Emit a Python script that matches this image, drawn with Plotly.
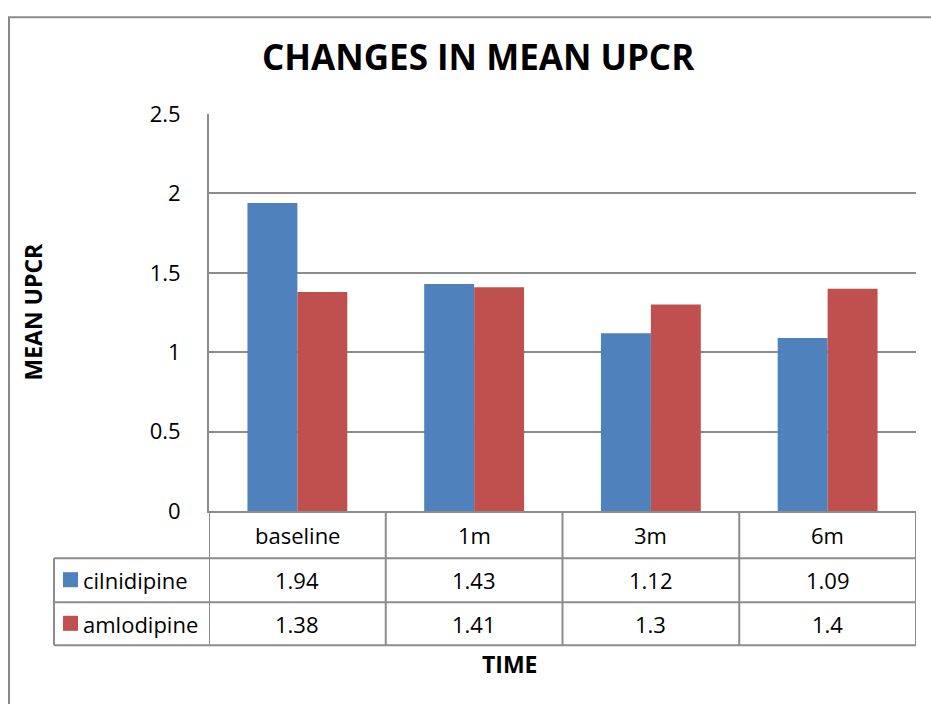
import plotly.graph_objects as go

categories = ["baseline", "1m", "3m", "6m"]
series_names = ["cilnidipine", "amlodipine"]
cilnidipine = [1.94, 1.43, 1.12, 1.09]
amlodipine = [1.38, 1.41, 1.3, 1.4]
y_ticks = [0, 0.5, 1, 1.5, 2, 2.5]
y_tick_labels = ["0", "0.5", "1", "1.5", "2", "2.5"]

W, H = 931, 704
colors = ["#4F81BD", "#C0504D"]
FONT = "'Open Sans', sans-serif"
GRID = "#8c8c8c"

# the page is photographed with a slight vertical offset/squeeze; compensate
VOFF, VSCALE = 17.2, 0.955


def px(x):
    return x / W


def py(y):
    return 1 - ((y - VOFF) / VSCALE) / H


fig = go.Figure()
for name, vals, c in zip(series_names, [cilnidipine, amlodipine], colors):
    fig.add_trace(go.Bar(x=categories, y=vals, name=name, marker=dict(color=c, line=dict(width=0))))

shapes = []
annotations = []

# outer chart border (top + left)
shapes.append(dict(type="line", xref="paper", yref="paper", x0=px(8), x1=px(W + 5), y0=py(18.5), y1=py(18.5),
                   line=dict(color="#8a8a8a", width=2)))
shapes.append(dict(type="line", xref="paper", yref="paper", x0=px(9), x1=px(9), y0=py(18.5), y1=py(H + 30),
                   line=dict(color="#8a8a8a", width=2)))

row_lines = [558, 602, 645]
table_left = 54
for ry in row_lines:
    shapes.append(dict(type="line", xref="paper", yref="paper", x0=px(table_left), x1=px(916),
                       y0=py(ry), y1=py(ry), line=dict(color=GRID, width=2)))
n = len(categories)
for i in range(n + 1):
    shapes.append(dict(type="line", xref="x", yref="paper", x0=i - 0.5, x1=i - 0.5,
                       y0=py(511), y1=py(645), line=dict(color=GRID, width=2)))
shapes.append(dict(type="line", xref="paper", yref="paper", x0=px(table_left), x1=px(table_left),
                   y0=py(558), y1=py(645), line=dict(color=GRID, width=2)))

TS = 22
for i, cat in enumerate(categories):
    annotations.append(dict(x=i, xref="x", y=py(534.5), yref="paper", text=cat, showarrow=False,
                            font=dict(size=TS, color="black", family=FONT), xanchor="center", yanchor="middle"))

row_centers = [580, 623.5]
for r, (name, vals, c) in enumerate(zip(series_names, [cilnidipine, amlodipine], colors)):
    yc = row_centers[r]
    shapes.append(dict(type="rect", xref="paper", yref="paper", x0=px(63), x1=px(78),
                       y0=py(yc - 8), y1=py(yc + 7), fillcolor=c, line=dict(width=0)))
    annotations.append(dict(x=px(81), xref="paper", y=py(yc), yref="paper", text=name, showarrow=False,
                            font=dict(size=TS, color="black", family=FONT), xanchor="left", yanchor="middle"))
    for i, v in enumerate(vals):
        annotations.append(dict(x=i, xref="x", y=py(yc), yref="paper", text=str(v), showarrow=False,
                                font=dict(size=TS, color="black", family=FONT), xanchor="center", yanchor="middle"))

annotations.append(dict(x=px(478), xref="paper", y=py(58), yref="paper", text="<b>CHANGES IN MEAN UPCR</b>",
                        showarrow=False, font=dict(size=35, color="black", family=FONT),
                        xanchor="center", yanchor="middle"))
annotations.append(dict(x=px(33), xref="paper", y=py(312), yref="paper", text="<b>MEAN UPCR</b>",
                        showarrow=False, textangle=-90, font=dict(size=23, color="black", family=FONT),
                        xanchor="center", yanchor="middle"))
annotations.append(dict(x=px(510), xref="paper", y=py(664), yref="paper", text="<b>TIME</b>",
                        showarrow=False, font=dict(size=23, color="black", family=FONT),
                        xanchor="center", yanchor="middle"))

fig.update_layout(
    width=W, height=H,
    margin=dict(l=0, r=0, t=0, b=0, pad=0),
    paper_bgcolor="white", plot_bgcolor="white",
    showlegend=False,
    barmode="group", bargap=0.435, bargroupgap=0,
    font=dict(family=FONT, color="black"),
    shapes=shapes, annotations=annotations,
    xaxis=dict(domain=[px(209), px(916)], showticklabels=False, ticks="", showgrid=False,
               showline=True, linecolor=GRID, linewidth=2, range=[-0.5, 3.5], zeroline=False),
    yaxis=dict(domain=[py(511), py(115)], range=[0, 2.5], tickvals=y_ticks, ticktext=y_tick_labels,
               showgrid=True, gridcolor=GRID, gridwidth=2, showline=True, linecolor=GRID, linewidth=2,
               zeroline=False, ticks="", ticklabelstandoff=22, tickfont=dict(size=TS, color="black", family=FONT)),
)

post = (
    "document.documentElement.style.margin='0';"
    "document.documentElement.style.padding='0';"
    "document.body.style.margin='0';"
    "document.body.style.padding='0';"
)

fig.write_html("out.html", config={"displayModeBar": False}, post_script=post)
